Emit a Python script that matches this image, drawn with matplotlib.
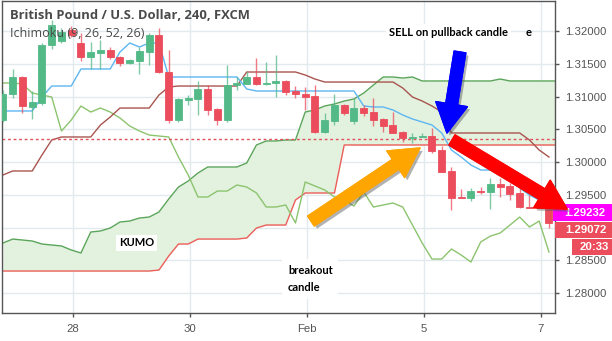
import numpy as np
import matplotlib
matplotlib.use("Agg")
import matplotlib.pyplot as plt
import matplotlib.patheffects as pe
from matplotlib.patches import FancyArrowPatch, Rectangle
from matplotlib.transforms import IdentityTransform

# GBP/USD 4h candles (oldest first)
opens = [1.30641, 1.31038, 1.31298, 1.30839, 1.30901, 1.31786, 1.31847, 1.32015, 1.31817, 1.31603,
         1.31664, 1.31710, 1.31603, 1.31511, 1.31542, 1.31679, 1.31939, 1.31374, 1.30641, 1.30946,
         1.30962, 1.31114, 1.30809, 1.30641, 1.31175, 1.31191, 1.31298, 1.31191, 1.31206, 1.31237,
         1.31084, 1.31038, 1.31007, 1.30458, 1.30626, 1.30870, 1.30626, 1.30824, 1.30763, 1.30656,
         1.30565, 1.30458, 1.30374, 1.30389, 1.30397, 1.30183, 1.29862, 1.29473, 1.29450, 1.29557,
         1.29542, 1.29664, 1.29633, 1.29526, 1.29320, 1.29297, 1.29297]
highs = [1.31099, 1.31420, 1.31313, 1.31084, 1.31817, 1.32168, 1.32046, 1.32076, 1.31969, 1.31832,
         1.31863, 1.31756, 1.31618, 1.31572, 1.31756, 1.31969, 1.32046, 1.31710, 1.30977, 1.31023,
         1.31237, 1.31175, 1.30824, 1.31481, 1.31298, 1.31374, 1.31588, 1.31527, 1.31634, 1.31252,
         1.31160, 1.31145, 1.31175, 1.30748, 1.31038, 1.30885, 1.30977, 1.30870, 1.30977, 1.30671,
         1.30763, 1.30473, 1.30442, 1.30442, 1.30519, 1.30244, 1.29923, 1.29587, 1.29603, 1.29618,
         1.29755, 1.29755, 1.29679, 1.29603, 1.29496, 1.29343, 1.29374]
lows = [1.30610, 1.30977, 1.30748, 1.30656, 1.30870, 1.31725, 1.31817, 1.31908, 1.31542, 1.31420,
        1.31420, 1.31572, 1.31466, 1.31496, 1.31343, 1.31481, 1.31359, 1.30595, 1.30610, 1.30870,
        1.30717, 1.30717, 1.30565, 1.30610, 1.31099, 1.31191, 1.31175, 1.31175, 1.30992, 1.31023,
        1.30977, 1.30794, 1.30442, 1.30442, 1.30565, 1.30717, 1.30580, 1.30702, 1.30549, 1.30458,
        1.30442, 1.30305, 1.30290, 1.30381, 1.30137, 1.29847, 1.29267, 1.29450, 1.29404, 1.29511,
        1.29282, 1.29465, 1.29419, 1.29297, 1.29297, 1.29297, 1.28992]
closes = [1.31038, 1.31298, 1.30855, 1.30916, 1.31786, 1.32092, 1.31985, 1.31939, 1.31603, 1.31679,
          1.31710, 1.31603, 1.31511, 1.31557, 1.31695, 1.31939, 1.31374, 1.30641, 1.30962, 1.30977,
          1.31114, 1.30794, 1.30641, 1.31175, 1.31206, 1.31298, 1.31191, 1.31206, 1.31237, 1.31069,
          1.31038, 1.30992, 1.30458, 1.30641, 1.30870, 1.30748, 1.30824, 1.30748, 1.30641, 1.30549,
          1.30442, 1.30366, 1.30389, 1.30404, 1.30168, 1.29847, 1.29450, 1.29458, 1.29557, 1.29542,
          1.29664, 1.29618, 1.29511, 1.29313, 1.29305, 1.29313, 1.29068]

# Ichimoku lines, one value per bar
tenkan = [1.30779, 1.30779, 1.30779, 1.30779, 1.30992, 1.31160, 1.31160, 1.31160, 1.31420, 1.31420,
          1.31420, 1.31420, 1.31679, 1.31817, 1.31756, 1.31817, 1.31817, 1.31298, 1.31298, 1.31298,
          1.31298, 1.31298, 1.31298, 1.31298, 1.31298, 1.31115, 1.31084, 1.31084, 1.31084, 1.31084,
          1.31084, 1.31084, 1.31084, 1.31084, 1.31084, 1.31084, 1.31084, 1.30855, 1.30840, 1.30840,
          1.30794, 1.30718, 1.30657, 1.30611, 1.30565, 1.30443, 1.30183, 1.30076, 1.29954, 1.29878,
          1.29878, 1.29878, 1.29725, 1.29603, 1.29496, 1.29420, 1.29374]
kijun = [1.29802, 1.29863, 1.29863, 1.29863, 1.30107, 1.30336, 1.30382, 1.30382, 1.30382, 1.30382,
         1.30565, 1.30687, 1.30824, 1.30824, 1.30824, 1.30824, 1.31023, 1.31145, 1.31160, 1.31160,
         1.31160, 1.31160, 1.31160, 1.31160, 1.31160, 1.31374, 1.31374, 1.31374, 1.31374, 1.31374,
         1.31374, 1.31328, 1.31267, 1.31221, 1.31221, 1.31221, 1.31221, 1.31221, 1.31221, 1.31221,
         1.31221, 1.31130, 1.30992, 1.30931, 1.30855, 1.30763, 1.30443, 1.30443, 1.30443, 1.30443,
         1.30443, 1.30443, 1.30443, 1.30443, 1.30336, 1.30183, 1.30076]
chikou = [1.31206, 1.31206, 1.31191, 1.31053, 1.31023, 1.30992, 1.30473, 1.30641, 1.30855, 1.30763,
          1.30824, 1.30763, 1.30672, 1.30550, 1.30473, 1.30412, 1.30397, 1.30382, 1.30076, 1.29802,
          1.29466, 1.29466, 1.29557, 1.29557, 1.29649, 1.29618, 1.29527, 1.29313, 1.29313, 1.29344,
          1.29069, 1.29695, 1.29634, 1.29573, 1.29466, 1.29420, 1.29328, 1.29542, 1.29313, 1.29344,
          1.29374, 1.29313, 1.29038, 1.28763, 1.28519, 1.28519, 1.28672, 1.28580, 1.28473, 1.28779,
          1.28870, 1.28916, 1.29038, 1.29160, 1.29008, 1.29099, 1.28626]
span_a = [1.28763, 1.28824, 1.28809, 1.28794, 1.28748, 1.28733, 1.28718, 1.28657, 1.28611, 1.28931,
          1.28947, 1.28992, 1.29084, 1.29099, 1.29145, 1.29160, 1.29237, 1.29435, 1.29618, 1.29710,
          1.29832, 1.29924, 1.29924, 1.29924, 1.29924, 1.29985, 1.30260, 1.30321, 1.30321, 1.30336,
          1.30336, 1.30763, 1.30794, 1.30855, 1.30886, 1.30931, 1.30962, 1.31053, 1.31176, 1.31298,
          1.31298, 1.31282, 1.31298, 1.31237, 1.31237, 1.31237, 1.31237, 1.31237, 1.31237, 1.31237,
          1.31237, 1.31267, 1.31237, 1.31237, 1.31237, 1.31237, 1.31237, 1.31237]
span_b = [1.28336] * 16 + [1.28351, 1.28565, 1.28748, 1.28748] + [1.28824] * 5 + \
         [1.28840, 1.28992, 1.29038, 1.29038, 1.29038, 1.29420] + [1.29527] * 4 + [1.30260] * 23

prev_close = 1.30351          # dotted red line
sell_price = 1.29232          # magenta tag
last_close = 1.29072
countdown = "20:33"

day_labels = ["28", "30", "Feb", "5", "7"]
day_bars = [7.15, 19.15, 31.15, 43.15, 55.15]   # bar index where each day starts
price_ticks = np.arange(1.28, 1.32001, 0.005)

up_col, down_col = "#53b987", "#eb4d5c"
W, H = 612, 341

fig = plt.figure(figsize=(W / 100, H / 100), dpi=100)
ax = fig.add_axes([2 / W, 28 / H, 553 / W, 312 / H])

x = np.arange(len(opens))
xc = np.arange(len(span_a))

# Kumo (cloud) and Ichimoku lines
ax.fill_between(xc, span_a, span_b, color="#e3f1df", zorder=1, lw=0)
ax.plot(xc, span_a, color="#5aa55a", lw=1, zorder=2)
ax.plot(xc, span_b, color="#ee5f5b", lw=1, zorder=2)
ax.plot(x, chikou, color="#8cc46e", lw=1, zorder=2)
ax.plot(x, kijun, color="#a9554f", lw=1, zorder=2)
ax.plot(x, tenkan, color="#5db6f2", lw=1, zorder=2)
ax.axhline(prev_close, color="#e0505a", lw=1, ls=(0, (2, 2)), zorder=2.5)

# Candles
o, c = np.array(opens), np.array(closes)
cols = [up_col if cc >= oo else down_col for oo, cc in zip(o, c)]
ax.vlines(x, lows, highs, colors=cols, lw=1, alpha=0.75, zorder=3)
ax.bar(x, c - o, bottom=o, width=0.72, color=cols, edgecolor=cols, lw=0.6, zorder=3.5)

ax.set_xlim(-0.1, 56.62)
ax.set_ylim(1.27695, 1.32458)
ax.grid(color="#e2eaee", lw=1, zorder=0)
ax.set_axisbelow(True)

ax.yaxis.tick_right()
ax.set_yticks(price_ticks)
ax.set_yticklabels(["%.5f" % p for p in price_ticks])
ax.set_xticks(day_bars)
ax.set_xticklabels(day_labels)
ax.tick_params(axis="both", colors="#555555", labelcolor="#555555", length=3, width=1,
               labelsize=8.2, direction="out")
ax.tick_params(axis="y", pad=4)
ax.tick_params(axis="x", pad=5)
for lab in ax.get_xticklabels() + ax.get_yticklabels():
    lab.set_fontfamily("Liberation Sans")
for s in ax.spines.values():
    s.set_color("#555555")
    s.set_linewidth(1)

# Header
ax.text(0.015, 0.955, "British Pound / U.S. Dollar, 240, FXCM", transform=ax.transAxes,
        fontsize=9.4, fontweight="bold", color="#4a4a4a", family="Open Sans", va="center", zorder=6)
ax.text(0.015, 0.895, "Ichimoku (9, 26, 52, 26)", transform=ax.transAxes,
        fontsize=9, color="#4a4a4a", family="Open Sans", va="center", zorder=6)


def px(xp, yp):
    """image pixel (y down) -> figure fraction"""
    return xp / W, 1 - yp / H


box = dict(boxstyle="square,pad=0.25", fc="white", ec="none")
fig.text(*px(389, 32), "SELL on pullback candle", fontsize=8, fontweight="bold", family="Lato",
         va="center", bbox=box, zorder=7)
fig.text(*px(526, 32), "e", fontsize=8, fontweight="bold", family="Lato", va="center", zorder=7)
fig.text(*px(119, 243), "KUMO", fontsize=8, fontweight="bold", family="Lato", va="center",
         bbox=box, zorder=7)
fig.text(*px(288, 279), "breakout\ncandle", fontsize=8, fontweight="bold", family="Lato",
         va="center", linespacing=1.75, bbox=dict(boxstyle="square,pad=0.5", fc="white", ec="none"),
         zorder=7)

# Price tags on the right axis
for txt, col, x0, y0, y1 in [("%.5f" % sell_price, "#ff00ff", 553, 204, 221),
                             ("%.5f" % last_close, down_col, 555, 222, 238),
                             (countdown, down_col, 572, 239, 255)]:
    fig.add_artist(Rectangle((x0, H - y1), W - x0, y1 - y0, transform=IdentityTransform(),
                             fc=col, ec="none", zorder=8))
    fig.text(*px(x0 + (W - x0) / 2 + 2, (y0 + y1) / 2), txt, color="white", fontsize=8.2,
             fontweight="bold", family="Liberation Sans", ha="center", va="center", zorder=9)

# Hand drawn arrows
shadow = [pe.withSimplePatchShadow(offset=(2, -2), shadow_rgbFace="#555555", alpha=0.45), pe.Normal()]
for (x0, y0), (x1, y1), col in [((460, 52), (447, 133), "#0000ff"),
                                ((311, 221), (420, 148), "#ffa500"),
                                ((452, 140), (567, 209), "#ff0000")]:
    arr = FancyArrowPatch((x0, H - y0), (x1, H - y1), transform=IdentityTransform(),
                          arrowstyle="simple,head_length=21,head_width=23,tail_width=8.5",
                          fc=col, ec=col, lw=1, capstyle="round", joinstyle="round",
                          shrinkA=0, shrinkB=0, zorder=10, path_effects=shadow)
    fig.add_artist(arr)

fig.savefig("out.png", dpi=100)
